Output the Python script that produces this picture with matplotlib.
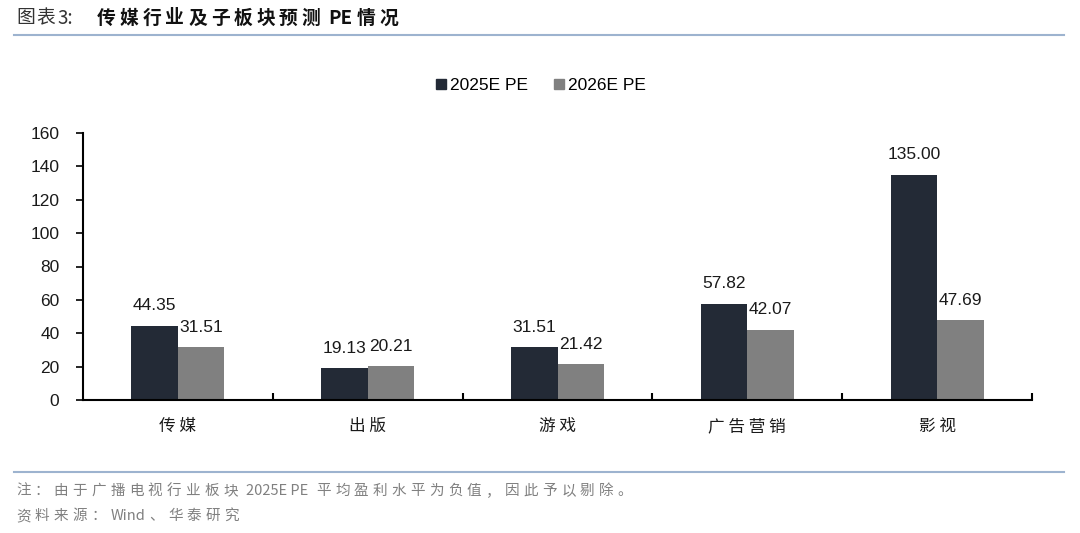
import matplotlib
matplotlib.use("Agg")
import matplotlib.pyplot as plt
import numpy as np
from matplotlib.lines import Line2D

plt.rcParams['font.family'] = ['Liberation Sans', 'Noto Sans CJK SC', 'DejaVu Sans']

categories = ['传媒', '出版', '游戏', '广告营销', '影视']
pe_2025 = [44.35, 19.13, 31.51, 57.82, 135.00]
pe_2026 = [31.51, 20.21, 21.42, 42.07, 47.69]
series_names = ['2025E PE', '2026E PE']
yticks = [0, 20, 40, 60, 80, 100, 120, 140, 160]

c1 = '#232a36'
c2 = '#808080'
W, H = 1080, 533
CJK = ['Noto Sans CJK SC', 'DejaVu Sans']

fig = plt.figure(figsize=(10.8, 5.33), dpi=100)
ax = fig.add_axes([83/W, 1-400/H, (1032-83)/W, (400-133)/H])

x = np.arange(len(categories))
w = 0.245
b1 = ax.bar(x - w/2, pe_2025, w, color=c1, label=series_names[0])
b2 = ax.bar(x + w/2, pe_2026, w, color=c2, label=series_names[1])
for rects, vals in ((b1, pe_2025), (b2, pe_2026)):
    for r, v in zip(rects, vals):
        ax.text(r.get_x() + r.get_width()/2, v + 7.5, f'{v:.2f}', ha='center', va='bottom',
                fontsize=12.5, color='#1a1a1a')

ax.set_xlim(-0.5, len(categories) - 0.5)
ax.set_ylim(0, 160)
ax.set_yticks(yticks)
ax.set_yticklabels([str(t) for t in yticks], fontsize=12.5, color='#1a1a1a')
ax.set_xticks(x)
ax.set_xticklabels([' '.join(c) for c in categories], fontsize=12, color='#1a1a1a', family=CJK)
ax.set_xticks(np.arange(0.5, len(categories)), minor=True)
ax.tick_params(axis='x', which='major', length=0, pad=13)
ax.tick_params(axis='x', which='minor', length=5, width=1.5, direction='in', color='#000000')
ax.tick_params(axis='y', length=5, width=1.2, direction='out', pad=12)
for s in ['top', 'right']:
    ax.spines[s].set_visible(False)
for s in ['left', 'bottom']:
    ax.spines[s].set_linewidth(1.5)
    ax.spines[s].set_color('#000000')

handles = [Line2D([], [], marker='s', linestyle='none', markersize=7, color=c1),
           Line2D([], [], marker='s', linestyle='none', markersize=7, color=c2)]
fig.legend(handles, series_names, loc='center', bbox_to_anchor=(540/W, 1-85/H), ncol=2,
           frameon=False, fontsize=12.5, handletextpad=0.1, columnspacing=1.4,
           handlelength=0.8)

fig.canvas.draw()
renderer = fig.canvas.get_renderer()


def spaced(x0, yc, text, spacing, **kw):
    """Draw text with extra spacing (px) after each CJK char; ASCII runs kept whole."""
    pieces = []
    buf = ''
    for ch in text:
        if ch.isascii():
            buf += ch
        else:
            if buf:
                pieces.append(buf)
                buf = ''
            pieces.append(ch)
    if buf:
        pieces.append(buf)
    xp = x0
    for p in pieces:
        lead = len(p) - len(p.lstrip(' '))
        xp += lead * 4
        core = p.strip(' ')
        if not core:
            continue
        t = fig.text(xp / W, 1 - yc / H, core, va='center', ha='left', **kw)
        bb = t.get_window_extent(renderer)
        trail = len(p) - len(p.rstrip(' '))
        xp += bb.width + spacing + trail * 4
    return xp


spaced(16, 18, '图表3:', 2, fontsize=13.5, color='#333333', family=CJK)
spaced(97, 18, '传媒行业及子板块预测 PE情况', 4, fontsize=13.5, color='#111111',
       fontweight='bold', family=CJK)
fig.add_artist(Line2D([14/W, 1064/W], [1-35/H, 1-35/H], color='#9db3cf', lw=1.5))
fig.add_artist(Line2D([14/W, 1064/W], [1-472/H, 1-472/H], color='#9db3cf', lw=1.5))

spaced(16, 491, '注：由于广播电视行业板块 2025E PE 平均盈利水平为负值，因此予以剔除。', 4.2,
       fontsize=10.5, color='#808080', family=CJK)
spaced(16, 516, '资料来源：Wind、华泰研究', 4.2,
       fontsize=10.5, color='#808080', family=CJK)

fig.savefig('out.png', dpi=100)
